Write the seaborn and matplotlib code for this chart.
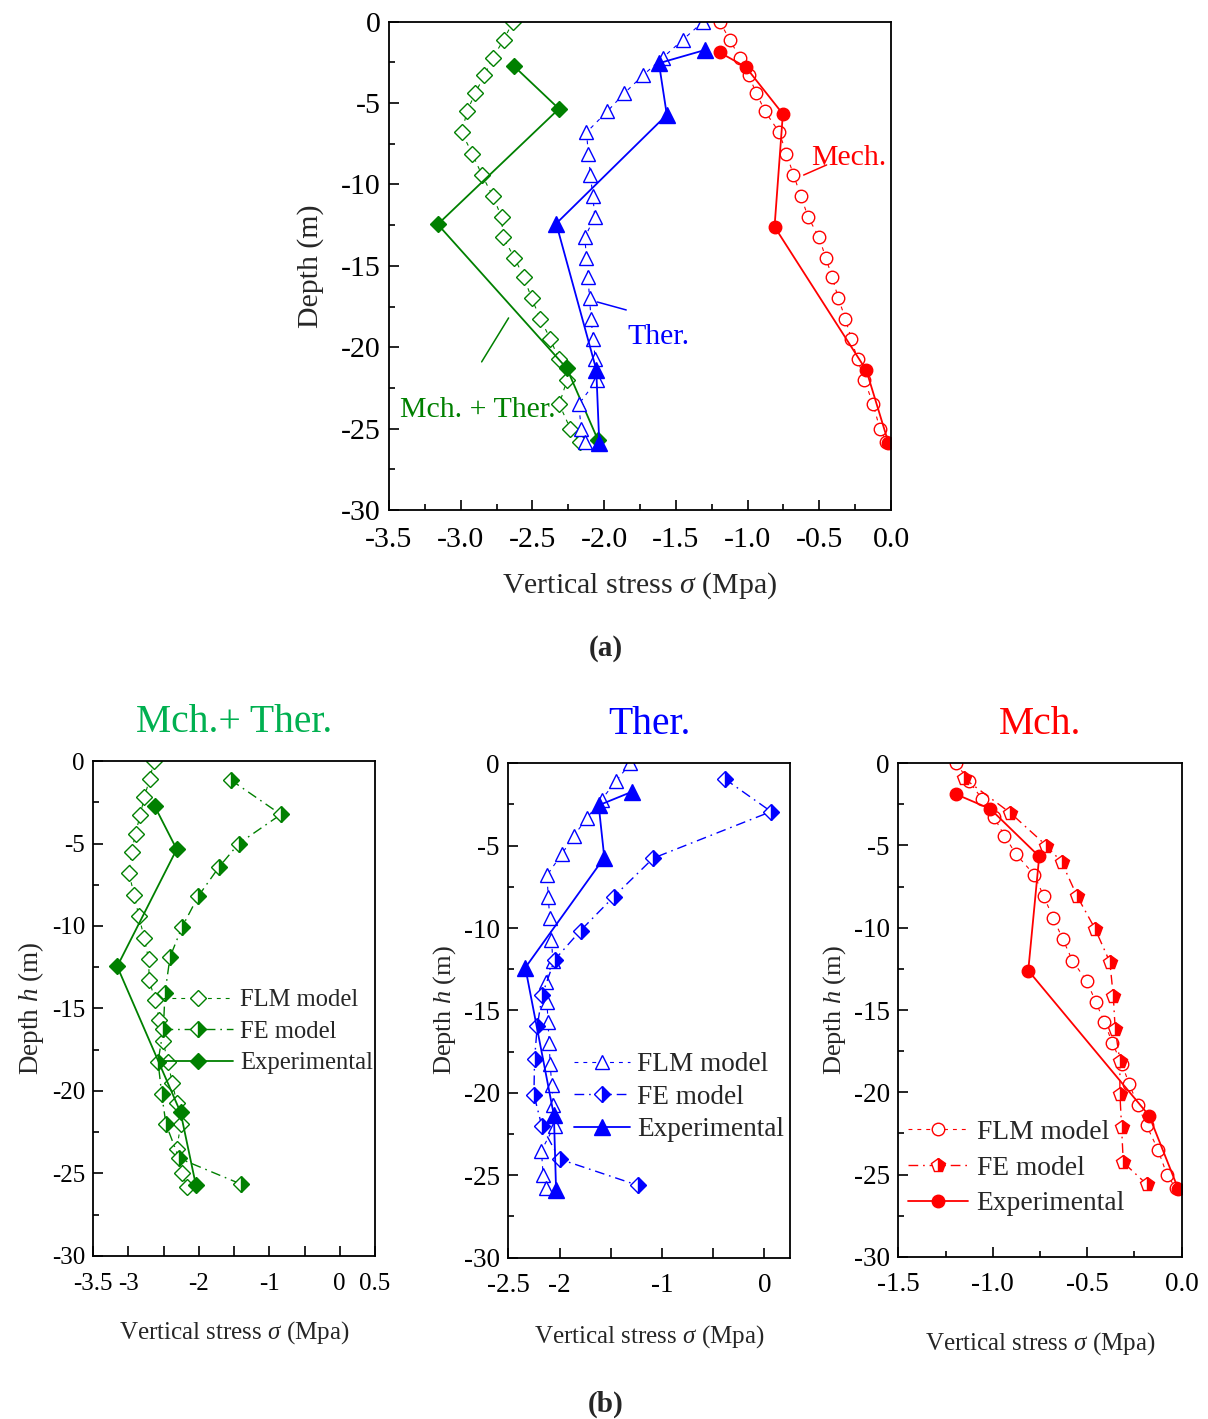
import numpy as np
import matplotlib
matplotlib.use("Agg")
import matplotlib.pyplot as plt
from matplotlib.ticker import MultipleLocator, FixedLocator, FixedFormatter
import seaborn as sns

# ---------------- data ----------------
# FLM model profiles (shared depth stations)
flm_depth = [0, -1.1, -2.2, -3.3, -4.4, -5.5, -6.8, -8.1, -9.4, -10.7, -12.0,
             -13.25, -14.5, -15.7, -17.0, -18.25, -19.5, -20.75, -22.0, -23.5,
             -25.0, -25.8]
flm_mt = [-2.635, -2.70, -2.775, -2.835, -2.90, -2.955, -2.993, -2.92, -2.853,
          -2.777, -2.715, -2.705, -2.625, -2.56, -2.505, -2.445, -2.375, -2.315,
          -2.258, -2.313, -2.236, -2.17]
flm_th = [-1.31, -1.45, -1.59, -1.73, -1.86, -1.977, -2.123, -2.11, -2.096,
          -2.079, -2.065, -2.135, -2.123, -2.112, -2.102, -2.091, -2.077, -2.061,
          -2.049, -2.177, -2.16, -2.133]
flm_me = [-1.194, -1.125, -1.055, -0.993, -0.938, -0.879, -0.779, -0.73, -0.68,
          -0.629, -0.578, -0.502, -0.455, -0.41, -0.367, -0.318, -0.277, -0.233,
          -0.186, -0.125, -0.078, -0.032]

# Experimental measurements
exp_mt_depth = [-2.72, -5.35, -12.45, -21.3, -25.7]
exp_mt = [-2.63, -2.315, -3.16, -2.26, -2.043]
exp_th_depth = [-1.73, -2.55, -5.72, -12.4, -21.37, -25.87]
exp_th = [-1.294, -1.618, -1.563, -2.334, -2.055, -2.034]
exp_me_depth = [-1.89, -2.78, -5.67, -12.6, -21.42, -25.87]
exp_me = [-1.194, -1.013, -0.754, -0.812, -0.172, -0.018]

# FE model profiles
fe_mt_depth = [-1.15, -3.24, -5.0, -6.42, -8.18, -10.06, -11.88, -14.05, -16.26,
               -18.22, -20.2, -22.02, -24.08, -25.65]
fe_mt = [-1.547, -0.836, -1.434, -1.713, -2.007, -2.239, -2.41, -2.481, -2.505,
         -2.58, -2.528, -2.467, -2.282, -1.40]
fe_th_depth = [-0.95, -2.93, -5.76, -8.09, -10.15, -11.93, -14.05, -15.97, -17.95,
               -20.12, -22.04, -24.02, -25.61]
fe_th = [-0.387, 0.065, -1.086, -1.47, -1.795, -2.049, -2.169, -2.218, -2.244,
         -2.25, -2.172, -2.0, -1.236]
fe_me_depth = [-0.91, -3.03, -5.01, -6.0, -8.09, -10.05, -12.09, -14.15, -16.13,
               -18.1, -20.08, -22.1, -24.26, -25.57]
fe_me = [-1.154, -0.906, -0.716, -0.636, -0.553, -0.459, -0.38, -0.362, -0.352,
         -0.327, -0.327, -0.318, -0.309, -0.186]

legend_labels = ["FLM model", "FE model", "Experimental"]
titles = ["Mch.+ Ther.", "Ther.", "Mch."]

GREEN, BLUE, RED = "#008000", "#0000FF", "#FF0000"
TITLE_GREEN = "#00B050"

# ---------------- style ----------------
sns.set_style("ticks")
plt.rcParams["font.family"] = ["Liberation Serif", "DejaVu Serif"]
plt.rcParams["mathtext.fontset"] = "custom"
plt.rcParams["mathtext.rm"] = "Liberation Serif"
plt.rcParams["mathtext.it"] = "Liberation Serif:italic"
plt.rcParams["axes.unicode_minus"] = False
plt.rcParams["axes.linewidth"] = 1.3
plt.rcParams["axes.edgecolor"] = "black"

fig = plt.figure(figsize=(12.08, 14.19), dpi=100)

FLM_DASH = (0, (3.5, 4.5))


def style_axis(ax, tick_fs, xlim, ylim, xpad):
    ax.set_xlim(*xlim)
    ax.set_ylim(*ylim)
    for s in ax.spines.values():
        s.set_visible(True)
        s.set_linewidth(1.3)
        s.set_color("black")
    ax.tick_params(axis="both", which="both", direction="in", top=False,
                   right=False, labelsize=tick_fs, colors="black", width=1.2)
    ax.tick_params(which="major", length=7)
    ax.tick_params(which="minor", length=4)
    ax.yaxis.set_major_locator(MultipleLocator(5))
    ax.yaxis.set_minor_locator(MultipleLocator(2.5))
    ax.tick_params(axis="y", pad=6)
    ax.tick_params(axis="x", pad=xpad)


def draw_flm(ax, x, y, color, marker, ms, label=None):
    sns.lineplot(x=x, y=y, ax=ax, sort=False, estimator=None, color=color,
                 linestyle=FLM_DASH, lw=0.8, marker=marker, markersize=ms,
                 markerfacecolor="white", markeredgecolor=color,
                 markeredgewidth=1.0, label=label, legend=False)


def draw_exp(ax, x, y, color, marker, ms, label=None):
    sns.lineplot(x=x, y=y, ax=ax, sort=False, estimator=None, color=color,
                 linestyle="-", lw=1.3, marker=marker, markersize=ms,
                 markerfacecolor=color, markeredgecolor=color,
                 markeredgewidth=1.0, label=label, legend=False)


def draw_fe(ax, x, y, color, marker, ms, label=None):
    sns.lineplot(x=x, y=y, ax=ax, sort=False, estimator=None, color=color,
                 linestyle=(0, (7, 3.5, 1.2, 3.5)), lw=1.0, marker=marker,
                 markersize=ms, markerfacecolor=color, fillstyle="right",
                 markerfacecoloralt="white", markeredgecolor=color,
                 markeredgewidth=1.0, label=label, legend=False)


# ================= panel (a) =================
axa = fig.add_axes([0.322, 0.6406, 0.4156, 0.3441])
draw_flm(axa, flm_mt, flm_depth, GREEN, "D", 8.0)
draw_exp(axa, exp_mt, exp_mt_depth, GREEN, "D", 8.2)
draw_flm(axa, flm_th, flm_depth, BLUE, "^", 10.5)
draw_exp(axa, exp_th, exp_th_depth, BLUE, "^", 11)
draw_flm(axa, flm_me, flm_depth, RED, "o", 9.0)
draw_exp(axa, exp_me, exp_me_depth, RED, "o", 9.0)
style_axis(axa, 21.5, (-3.5, 0.0), (-30, 0), xpad=12)
axa.xaxis.set_major_locator(MultipleLocator(0.5))
axa.xaxis.set_minor_locator(MultipleLocator(0.25))
axa.xaxis.set_major_formatter(plt.FuncFormatter(lambda v, p: f"{v:.1f}"))
axa.set_xlabel(r"Vertical stress $\sigma$ (Mpa)", fontsize=21.5, labelpad=13)
axa.set_ylabel("Depth (m)", fontsize=21.5, labelpad=12)

# curve annotations with leader lines
axa.plot([-0.609, -0.449], [-9.42, -8.80], color=RED, lw=1.1)
axa.text(-0.56, -8.4, "Mech.", color=RED, fontsize=21.5, va="center", ha="left")
axa.plot([-2.048, -1.846], [-17.22, -17.71], color=BLUE, lw=1.1)
axa.text(-1.839, -19.35, "Ther.", color=BLUE, fontsize=21.5, va="center", ha="left")
axa.plot([-2.854, -2.666], [-20.9, -18.2], color=GREEN, lw=1.1)
axa.text(-3.424, -23.85, "Mch. + Ther.", color=GREEN, fontsize=21.5,
         va="center", ha="left")

fig.text(0.5017, 0.5433, "(a)", fontsize=21, fontweight="bold",
         ha="center", va="center")

# ================= panel (b) =================
panels = [
    dict(rect=[0.0772, 0.1149, 0.2332, 0.3488], color=GREEN, tcolor=TITLE_GREEN,
         flm=flm_mt, fe=fe_mt, fe_d=fe_mt_depth, ex=exp_mt, ex_d=exp_mt_depth,
         mk_flm="D", ms_flm=8.0, mk_fe="D", ms_fe=8.2, mk_ex="D", ms_ex=8.2,
         xlim=(-3.5, 0.5), xt=[-3.5, -3, -2.5, -2, -1.5, -1, -0.5, 0, 0.5],
         xl=["-3.5", "-3", "", "-2", "", "-1", "", "0", "0.5"], xminor=None,
         tick_fs=18, ylab_fs=19.5, xlab_pad=18, ylab_pad=4, xpad=12,
         leg=dict(anchor=(0.247, 0.539), fs=17.7, hl=2.85, htp=0.3, ls=0.38)),
    dict(rect=[0.4208, 0.1137, 0.2332, 0.3484], color=BLUE, tcolor=BLUE,
         flm=flm_th, fe=fe_th, fe_d=fe_th_depth, ex=exp_th, ex_d=exp_th_depth,
         mk_flm="^", ms_flm=10.5, mk_fe="D", ms_fe=8.2, mk_ex="^", ms_ex=11,
         xlim=(-2.5, 0.25), xt=[-2.5, -2, -1.5, -1, -0.5, 0],
         xl=["-2.5", "-2", "", "-1", "", "0"], xminor=None,
         tick_fs=19.5, ylab_fs=19, xlab_pad=18, ylab_pad=4, xpad=11,
         leg=dict(anchor=(0.233, 0.416), fs=19.6, hl=2.06, htp=0.27, ls=0.28)),
    dict(rect=[0.7436, 0.1142, 0.2346, 0.348], color=RED, tcolor=RED,
         flm=flm_me, fe=fe_me, fe_d=fe_me_depth, ex=exp_me, ex_d=exp_me_depth,
         mk_flm="o", ms_flm=9.0, mk_fe="p", ms_fe=10, mk_ex="o", ms_ex=9.0,
         xlim=(-1.5, 0.0), xt=[-1.5, -1.0, -0.5, 0.0],
         xl=["-1.5", "-1.0", "-0.5", "0.0"], xminor=0.25,
         tick_fs=19.5, ylab_fs=19, xlab_pad=24, ylab_pad=4, xpad=11,
         leg=dict(anchor=(0.034, 0.278), fs=19.8, hl=2.2, htp=0.3, ls=0.38)),
]

for p, title in zip(panels, titles):
    ax = fig.add_axes(p["rect"])
    c = p["color"]
    draw_flm(ax, p["flm"], flm_depth, c, p["mk_flm"], p["ms_flm"],
             label=legend_labels[0])
    draw_fe(ax, p["fe"], p["fe_d"], c, p["mk_fe"], p["ms_fe"],
            label=legend_labels[1])
    draw_exp(ax, p["ex"], p["ex_d"], c, p["mk_ex"], p["ms_ex"],
             label=legend_labels[2])
    style_axis(ax, p["tick_fs"], p["xlim"], (-30, 0), xpad=p["xpad"])
    ax.xaxis.set_major_locator(FixedLocator(p["xt"]))
    ax.xaxis.set_major_formatter(FixedFormatter(p["xl"]))
    if p["xminor"]:
        ax.xaxis.set_minor_locator(MultipleLocator(p["xminor"]))
    ax.set_xlabel(r"Vertical stress $\sigma$ (Mpa)", fontsize=18,
                  labelpad=p["xlab_pad"])
    ax.set_ylabel(r"Depth $h$ (m)", fontsize=p["ylab_fs"], labelpad=p["ylab_pad"])
    ax.set_title(title, color=p["tcolor"], fontsize=28.5, pad=21)
    lg = p["leg"]
    ax.legend(handles=ax.lines[:3], labels=legend_labels, loc="upper left",
              bbox_to_anchor=lg["anchor"], frameon=False, fontsize=lg["fs"],
              handlelength=lg["hl"], handletextpad=lg["htp"],
              labelspacing=lg["ls"], borderpad=0, borderaxespad=0)

fig.text(0.5017, 0.0106, "(b)", fontsize=21, fontweight="bold",
         ha="center", va="center")

fig.savefig("out.png", dpi=100)
